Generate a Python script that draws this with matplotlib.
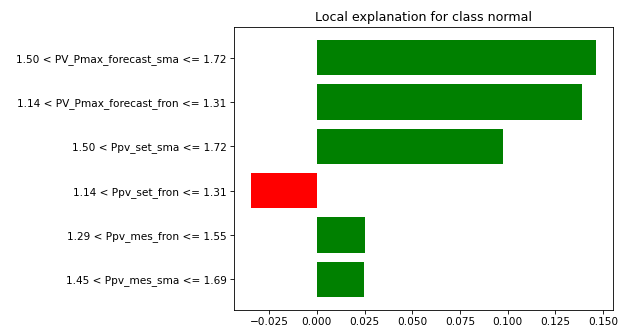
import matplotlib
matplotlib.use("Agg")
import matplotlib.pyplot as plt

# Pesos de la explicación local (de arriba hacia abajo)
features = [
    "1.50 < PV_Pmax_forecast_sma <= 1.72",
    "1.14 < PV_Pmax_forecast_fron <= 1.31",
    "1.50 < Ppv_set_sma <= 1.72",
    "1.14 < Ppv_set_fron <= 1.31",
    "1.29 < Ppv_mes_fron <= 1.55",
    "1.45 < Ppv_mes_sma <= 1.69",
]
weights = [0.1462, 0.1390, 0.0974, -0.0344, 0.0252, 0.0248]

# Igual que lime: se dibuja de abajo hacia arriba
feats = features[::-1]
vals = weights[::-1]
colors = ["green" if v > 0 else "red" for v in vals]
pos = list(range(len(vals)))

dpi = 76
fig = plt.figure(figsize=(618 / dpi, 328 / dpi), dpi=dpi)
ax = fig.add_axes([234 / 618, 1 - 310 / 328, 379 / 618, 283 / 328])
ax.barh(pos, vals, align="center", color=colors)
ax.set_yticks(pos)
ax.set_yticklabels(feats)
ax.set_title("Local explanation for class normal")

fig.savefig("out.png", dpi=dpi)
